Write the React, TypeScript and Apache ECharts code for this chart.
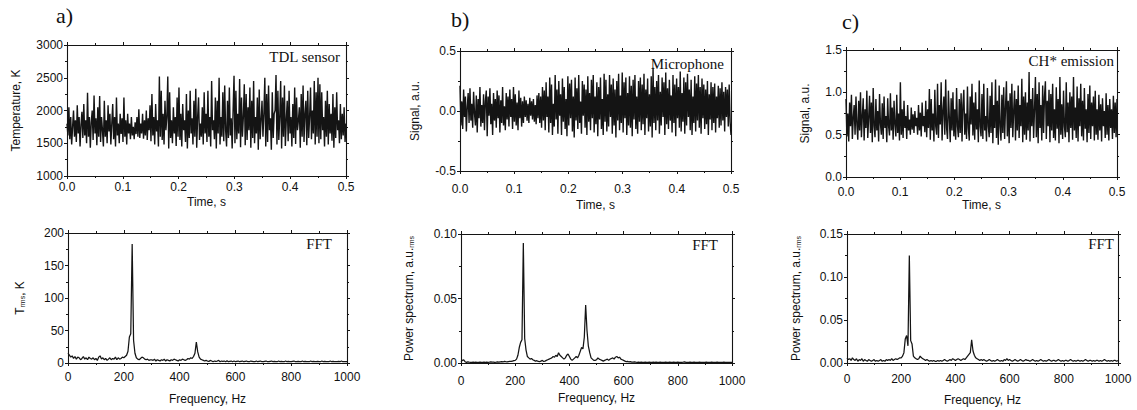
import React, { useEffect, useRef } from "react";
import * as echarts from "echarts";

// ---------- data ----------
const T_END = 0.5; // s, time span of the recordings
const FREQ_STEP = 5; // Hz, spacing of the spectra

const tdlTemperature = [
  1800,1620,2050,1560,1900,1480,1750,2000,1600,1850,
  1520,2080,1650,1900,1450,1780,1980,1580,2100,1620,
  1850,1500,2270,1600,1900,1430,1820,2000,1550,2230,
  1650,1880,1470,2050,1600,2220,1520,1900,1700,1450,
  2150,1600,1850,1500,2080,1680,1950,1480,1800,2100,
  1560,1900,1450,2200,1620,1800,1500,1950,1640,1880,
  1520,2200,1600,1850,1480,1950,1650,1800,1560,1900,
  1620,1750,1560,1820,1640,1900,1600,2020,1580,1800,
  1650,1950,1570,1850,1620,2000,1550,1880,1700,2080,
  1530,2250,1620,1900,1480,2100,1680,1850,1450,2520,
  1600,2300,1550,1950,1480,2150,1700,1900,2520,1420,
  2280,1580,1850,1500,2050,1650,1900,1460,2200,1600,
  2350,1550,1950,1450,2100,1700,1850,1520,2250,1420,
  2000,1580,2300,1650,1880,1480,2150,1600,2330,1430,
  1900,2200,1550,1800,1600,2050,1480,2280,1650,1950,
  1520,2300,1600,1900,1450,2450,1700,1850,1560,2200,
  1420,2150,1650,2500,1480,1900,1600,2280,1530,2380,
  1700,1450,2150,1580,2350,1620,1880,1420,2000,2530,
  1500,2300,1560,1950,1650,2480,1440,2200,1600,1900,
  2400,1470,2250,1550,2050,1700,2350,1430,2150,1580,
  2450,1500,1900,1650,2200,1400,2320,1560,1850,2150,
  1600,1950,2500,1450,2250,1520,2380,1700,1880,1400,
  2280,1580,1950,2000,2540,1480,2300,1550,1900,2450,
  1420,2200,1600,2380,1460,1850,2150,1530,2300,1650,
  1900,1450,2100,1580,2350,1490,2200,1700,1850,2050,
  1430,2250,1600,2380,1520,1950,2150,1470,2300,1580,
  1900,2350,1560,2000,1650,2450,1480,2280,1600,2500,
  1500,2400,1560,2280,1700,1900,1450,2150,1600,2300,
  1480,2100,1650,1950,1540,2250,1430,2050,1580,2280,
  1700,1850,1500,2100,1560,1950,1620,2050,1520,1800,
];

const micSignal = [
  0.21,-0.12,0.08,-0.15,0.18,-0.05,0.12,-0.17,0.03,0.15,
  -0.1,0.19,-0.08,0.06,-0.14,0.16,-0.02,-0.12,0.13,-0.18,
  0.1,-0.06,0.2,-0.13,0.05,-0.1,0.14,-0.16,0.08,0.17,
  -0.21,0.12,-0.04,0.19,-0.11,0.06,-0.2,0.15,-0.08,0.1,
  -0.14,0.17,-0.06,0.13,-0.18,0.09,-0.1,0.2,-0.12,0.04,
  -0.16,0.15,-0.07,0.12,-0.13,0.18,-0.05,0.1,-0.15,0.2,
  -0.09,0.14,-0.12,0.07,-0.16,0.17,-0.06,0.11,-0.13,0.08,
  -0.1,0.12,-0.05,0.09,-0.08,0.06,-0.1,0.11,-0.04,0.08,
  -0.07,0.1,-0.09,0.05,-0.11,0.13,-0.06,0.15,-0.1,0.12,
  -0.14,0.2,-0.08,0.17,-0.16,0.24,-0.05,0.12,-0.18,0.28,
  -0.1,0.22,-0.2,0.06,-0.13,0.3,-0.07,0.18,-0.19,0.25,
  -0.04,0.14,-0.2,0.27,-0.09,0.2,-0.15,0.1,-0.21,0.29,
  -0.12,0.23,-0.06,0.26,-0.17,0.12,-0.22,0.28,-0.08,0.19,
  -0.15,0.3,-0.1,0.08,-0.19,0.25,-0.04,0.22,-0.14,0.18,
  -0.2,0.29,-0.09,0.15,-0.16,0.26,-0.06,0.3,-0.18,0.12,
  -0.11,0.24,-0.21,0.2,-0.07,0.28,-0.15,0.1,-0.2,0.31,
  -0.09,0.26,-0.17,0.14,-0.13,0.3,-0.05,0.22,-0.19,0.27,
  -0.12,0.18,-0.22,0.25,-0.08,0.31,-0.16,0.13,-0.1,0.32,
  -0.18,0.24,-0.06,0.28,-0.2,0.15,-0.12,0.29,-0.14,0.21,
  -0.21,0.26,-0.07,0.3,-0.15,0.12,-0.19,0.25,-0.09,0.28,
  -0.16,0.22,-0.11,0.31,-0.2,0.18,-0.06,0.27,-0.17,0.14,
  -0.13,0.29,-0.22,0.36,-0.1,0.2,-0.16,0.25,-0.08,0.3,
  -0.19,0.16,-0.12,0.28,-0.05,0.24,-0.2,0.32,-0.11,0.19,
  -0.15,0.26,-0.08,0.13,-0.18,0.3,-0.1,0.22,-0.21,0.27,
  -0.06,0.2,-0.14,0.33,-0.17,0.15,-0.09,0.28,-0.19,0.24,
  -0.12,0.31,-0.05,0.18,-0.16,0.26,-0.2,0.12,-0.1,0.29,
  -0.17,0.23,-0.08,0.3,-0.14,0.2,-0.19,0.27,-0.06,0.22,
  -0.15,0.18,-0.11,0.25,-0.2,0.14,-0.07,0.24,-0.16,0.2,
  -0.1,0.23,-0.18,0.12,-0.06,0.21,-0.14,0.19,-0.12,0.24,
  -0.08,0.16,-0.17,0.2,-0.05,0.18,-0.13,0.22,-0.09,-0.2,
];

const chEmission = [
  0.92,0.48,0.75,0.42,0.88,0.6,0.97,0.45,0.7,0.85,
  0.5,0.95,0.62,0.44,0.9,0.55,1.0,0.47,0.72,0.93,
  0.43,0.8,0.58,1.02,0.46,0.7,0.96,0.52,0.88,0.41,
  1.05,0.6,0.47,0.92,0.55,0.78,0.42,0.98,0.63,0.5,
  0.87,0.45,0.95,0.58,0.72,0.41,0.93,0.6,0.49,0.99,
  0.55,0.82,0.44,0.9,0.62,0.48,0.97,0.52,0.75,0.43,
  1.12,0.5,0.8,0.46,0.9,0.58,0.72,0.45,0.85,0.55,
  0.68,0.5,0.82,0.56,0.74,0.52,0.78,0.6,0.7,0.5,
  0.85,0.55,0.76,0.48,0.88,0.6,0.72,0.53,0.9,0.47,
  0.8,0.58,1.04,0.44,0.92,0.55,0.75,0.42,1.03,0.6,
  0.5,1.1,0.46,0.85,0.62,1.12,0.43,0.78,0.95,0.5,
  1.15,0.58,0.45,1.02,0.7,0.41,0.93,0.55,1.0,0.48,
  0.8,0.44,1.05,0.6,0.47,0.92,0.52,0.99,0.42,0.85,
  1.03,0.5,0.75,0.45,1.07,0.58,0.43,0.95,0.62,1.1,
  0.49,0.88,0.44,1.0,0.56,0.8,0.41,1.14,0.6,0.48,
  0.98,0.45,1.1,0.55,0.72,0.42,1.05,0.6,0.47,0.96,
  0.52,1.12,0.4,0.85,0.58,1.15,0.46,0.9,0.38,1.08,
  0.6,0.43,0.97,0.52,1.06,0.45,0.82,1.13,0.48,0.9,
  0.4,0.99,0.58,1.1,0.47,0.78,1.02,0.43,0.92,0.55,
  1.08,0.46,0.85,0.6,1.16,0.41,0.95,0.5,1.0,0.44,
  0.88,0.55,1.24,0.42,0.92,0.6,1.05,0.46,0.8,1.18,
  0.47,0.98,0.4,1.12,0.58,0.85,0.43,1.08,0.52,0.95,
  1.13,0.45,0.9,0.6,1.03,0.41,0.98,0.55,1.1,0.46,
  0.8,0.43,1.06,0.57,0.92,0.4,1.18,0.5,0.86,0.45,
  1.02,0.6,0.47,1.12,0.53,0.88,0.41,1.0,0.58,0.95,
  0.44,1.18,0.55,0.82,0.46,1.07,0.42,0.93,0.6,1.1,
  0.48,0.9,0.43,1.05,0.57,0.8,0.41,0.98,0.52,1.08,
  0.45,0.88,0.6,0.95,0.43,1.02,0.5,0.8,0.44,0.97,
  0.55,0.86,0.42,0.93,0.6,0.78,0.46,0.99,0.5,0.85,
  0.43,0.92,0.58,0.8,0.45,0.96,0.52,0.88,0.47,0.92,
];

const fftTemperature = [
  15,12,9,11,7,10,6,9,8,5,7,10,6,8,5,9,7,6,8,5,
  7,4,9,11,6,8,5,7,4,6,8,5,7,6,9,5,8,6,7,9,
  8,10,12,18,40,45,183,35,15,8,6,5,7,9,8,6,5,6,4,5,
  5,4,6,3,5,4,3,5,4,6,3,5,4,3,5,4,6,5,4,3,
  5,4,6,5,4,5,7,6,8,7,10,15,32,17,9,6,5,4,3,4,
  3,2.5,4,3,2,3,2.5,3,4,2,3,2.5,3,2,3.5,2,2.5,3,2,3,
  2,2.5,3,2,2.5,3,2,2.5,3,2,2,3,2.5,2,2,3,2,2.5,3,2,
  2,2.5,3,2,2,2.5,3,2,2.5,2,2,3,2,2.5,2,2,3,2,2.5,2,
  2,2.5,3,2,2,2.5,2,2,3,2,2.5,2,2,2,3,2,2.5,2,2,2.5,
  2,2,3,2,2.5,2,2,2,3,2,2.5,2,2,2,2.5,2,3,2,2,2,
  2,
];

const fftMicrophone = [
  0.001,0.002,0.0025,0.001,0.0005,0.0008,0.0006,0.0005,0.0004,0.0006,0.0005,0.0007,0.0004,0.0005,0.0006,0.0004,0.0005,0.0007,0.0005,0.0006,
  0.0005,0.0006,0.0008,0.0006,0.0007,0.0005,0.0006,0.0008,0.0007,0.0009,0.001,0.0008,0.0012,0.001,0.0009,0.0011,0.0013,0.0012,0.0015,0.0018,
  0.002,0.003,0.006,0.012,0.016,0.018,0.093,0.019,0.01,0.005,0.004,0.003,0.0035,0.0025,0.002,0.0015,0.0018,0.0012,0.001,0.0015,
  0.002,0.0012,0.0015,0.002,0.0025,0.003,0.0035,0.004,0.005,0.0045,0.006,0.005,0.008,0.006,0.005,0.004,0.003,0.004,0.006,0.007,
  0.005,0.003,0.002,0.003,0.004,0.005,0.004,0.006,0.009,0.012,0.011,0.02,0.045,0.025,0.013,0.008,0.004,0.003,0.002,0.002,
  0.0025,0.004,0.003,0.0025,0.002,0.0015,0.002,0.0025,0.003,0.002,0.003,0.0035,0.004,0.003,0.0045,0.005,0.004,0.0045,0.003,0.0025,
  0.002,0.0015,0.001,0.0012,0.0008,0.001,0.0007,0.0006,0.0008,0.0006,0.0005,0.0007,0.0005,0.0006,0.0004,0.0005,0.0006,0.0005,0.0004,0.0006,
  0.0005,0.0004,0.0006,0.0005,0.0007,0.0005,0.0004,0.0006,0.0005,0.0004,0.0005,0.0006,0.0004,0.0005,0.0007,0.0005,0.0004,0.0006,0.0005,0.0004,
  0.0006,0.0005,0.0004,0.0005,0.0006,0.0008,0.0005,0.0004,0.0005,0.0006,0.0004,0.0005,0.0006,0.0005,0.0004,0.0005,0.0006,0.0004,0.0005,0.0004,
  0.0005,0.0006,0.0004,0.0005,0.0004,0.0006,0.0005,0.0004,0.0005,0.0006,0.0004,0.0005,0.0004,0.0005,0.0006,0.0004,0.0005,0.0004,0.0005,0.0004,
  0.0005,
];

const fftEmission = [
  0.006,0.004,0.005,0.003,0.006,0.004,0.003,0.005,0.002,0.004,0.003,0.005,0.002,0.004,0.003,0.002,0.004,0.003,0.002,0.003,
  0.004,0.002,0.003,0.002,0.003,0.004,0.002,0.003,0.002,0.004,0.003,0.004,0.003,0.005,0.003,0.004,0.005,0.004,0.005,0.006,
  0.006,0.008,0.012,0.028,0.032,0.02,0.125,0.026,0.022,0.008,0.006,0.005,0.004,0.005,0.008,0.006,0.005,0.004,0.003,0.004,
  0.003,0.002,0.003,0.002,0.003,0.002,0.002,0.003,0.002,0.003,0.002,0.003,0.004,0.003,0.002,0.003,0.004,0.003,0.005,0.004,
  0.003,0.004,0.005,0.004,0.003,0.004,0.005,0.004,0.006,0.008,0.01,0.012,0.027,0.014,0.009,0.006,0.005,0.004,0.003,0.004,
  0.003,0.004,0.003,0.002,0.003,0.004,0.003,0.002,0.003,0.002,0.003,0.004,0.003,0.002,0.003,0.002,0.004,0.003,0.005,0.003,
  0.004,0.003,0.002,0.003,0.004,0.003,0.002,0.003,0.004,0.003,0.002,0.003,0.004,0.003,0.003,0.002,0.003,0.004,0.003,0.002,
  0.003,0.002,0.003,0.004,0.003,0.002,0.003,0.002,0.003,0.004,0.003,0.002,0.003,0.003,0.002,0.003,0.004,0.003,0.002,0.003,
  0.002,0.003,0.003,0.002,0.003,0.004,0.003,0.002,0.003,0.002,0.003,0.003,0.002,0.003,0.002,0.003,0.004,0.003,0.002,0.003,
  0.003,0.002,0.003,0.002,0.003,0.003,0.002,0.003,0.002,0.003,0.004,0.003,0.002,0.003,0.002,0.003,0.002,0.003,0.003,0.002,
  0.003,
];

const panelLetters = ["a)", "b)", "c)"];
const topTags = ["TDL sensor", "Microphone", "CH* emission"];
const bottomTag = "FFT";

// ---------- styling ----------
const SANS = "'Liberation Sans', Arial, sans-serif";
const SERIF = "'Liberation Serif', 'Times New Roman', serif";
const INK = "#141414";
const TXT = "#111";

const grids = [
  { left: 67, top: 45, width: 279, height: 131 },
  { left: 460, top: 51, width: 271, height: 120 },
  { left: 846, top: 50, width: 271, height: 127 },
  { left: 68, top: 233, width: 279, height: 130 },
  { left: 461, top: 234, width: 271, height: 129 },
  { left: 847, top: 234, width: 271, height: 129 },
];

const f1 = (v: number) => v.toFixed(1);
const f2 = (v: number) => v.toFixed(2);
const f0 = (v: number) => String(Math.round(v));

type AxisSpec = { min: number; max: number; interval: number; fmt: (v: number) => string; name: string; gap: number; margin: number };

const xSpecs: AxisSpec[] = [
  { min: 0, max: 0.5, interval: 0.1, fmt: f1, name: "Time, s", gap: 20, margin: 5 },
  { min: 0, max: 0.5, interval: 0.1, fmt: f1, name: "Time, s", gap: 28, margin: 12 },
  { min: 0, max: 0.5, interval: 0.1, fmt: f1, name: "Time, s", gap: 22, margin: 9 },
  { min: 0, max: 1000, interval: 200, fmt: f0, name: "Frequency, Hz", gap: 30, margin: 8 },
  { min: 0, max: 1000, interval: 200, fmt: f0, name: "Frequency, Hz", gap: 29, margin: 12 },
  { min: 0, max: 1000, interval: 200, fmt: f0, name: "Frequency, Hz", gap: 31, margin: 10 },
];

const ySpecs: AxisSpec[] = [
  { min: 1000, max: 3000, interval: 500, fmt: f0, name: "Temperature, K", gap: 45, margin: 4 },
  { min: -0.5, max: 0.5, interval: 0.5, fmt: f1, name: "Signal, a.u.", gap: 39, margin: 4 },
  { min: 0, max: 1.5, interval: 0.5, fmt: f1, name: "Signal, a.u.", gap: 35, margin: 4 },
  { min: 0, max: 200, interval: 50, fmt: f0, name: "{m|T}{s|rms}{m|, K}", gap: 42, margin: 4 },
  { min: 0, max: 0.1, interval: 0.05, fmt: f2, name: "{m|Power spectrum, a.u.}{s|rms}", gap: 46, margin: 4 },
  { min: 0, max: 0.15, interval: 0.05, fmt: f2, name: "{m|Power spectrum, a.u.}{s|rms}", gap: 45, margin: 4 },
];

const seriesValues = [tdlTemperature, micSignal, chEmission, fftTemperature, fftMicrophone, fftEmission];

function buildOption() {
  const xAxis: any[] = [];
  const yAxis: any[] = [];
  const series: any[] = [];
  const lineCommon = { lineStyle: { color: INK, width: 1.1 } };
  const tickCommon = { show: true, inside: false, length: 3, lineStyle: { color: INK, width: 1 } };
  const minorCommon = { show: true, splitNumber: 2, length: 2, lineStyle: { color: INK, width: 1 } };
  const labelCommon = { fontFamily: SANS, fontSize: 12, color: TXT };
  const nameStyle = {
    fontFamily: SANS,
    fontSize: 12,
    color: TXT,
    rich: {
      m: { fontFamily: SANS, fontSize: 12, color: TXT },
      s: { fontFamily: SANS, fontSize: 7, color: TXT, verticalAlign: "bottom" },
    },
  };

  grids.forEach((g, i) => {
    const xs = xSpecs[i];
    const ys = ySpecs[i];
    xAxis.push({
      type: "value", gridIndex: i, position: "bottom", min: xs.min, max: xs.max, interval: xs.interval,
      axisLine: { show: true, onZero: false, ...lineCommon },
      axisTick: tickCommon, minorTick: minorCommon, splitLine: { show: false },
      axisLabel: { ...labelCommon, margin: xs.margin, formatter: xs.fmt },
      name: xs.name, nameLocation: "middle", nameGap: xs.gap, nameTextStyle: nameStyle,
    });
    yAxis.push({
      type: "value", gridIndex: i, position: "left", min: ys.min, max: ys.max, interval: ys.interval,
      axisLine: { show: true, onZero: false, ...lineCommon },
      axisTick: tickCommon, minorTick: minorCommon, splitLine: { show: false },
      axisLabel: { ...labelCommon, margin: ys.margin, formatter: ys.fmt },
      name: ys.name, nameLocation: "middle", nameGap: ys.gap, nameRotate: 90, nameTextStyle: nameStyle,
    });
    xAxis.push({
      type: "value", gridIndex: i, position: "top", min: xs.min, max: xs.max, interval: xs.interval,
      axisLine: { show: true, onZero: false, ...lineCommon },
      axisTick: tickCommon, minorTick: minorCommon, splitLine: { show: false },
      axisLabel: { show: false },
    });
    yAxis.push({
      type: "value", gridIndex: i, position: "right", min: ys.min, max: ys.max, interval: ys.interval,
      axisLine: { show: true, onZero: false, ...lineCommon },
      axisTick: tickCommon, minorTick: minorCommon, splitLine: { show: false },
      axisLabel: { show: false },
    });

    const vals = seriesValues[i];
    const data = i < 3
      ? vals.map((v, k) => [(k * T_END) / (vals.length - 1), v])
      : vals.map((v, k) => [k * FREQ_STEP, v]);
    series.push({
      type: "line",
      xAxisIndex: i * 2,
      yAxisIndex: i * 2,
      data,
      symbol: "none",
      showSymbol: false,
      clip: true,
      lineStyle: { color: INK, width: i < 3 ? 1.4 : 1.25 },
    });
  });

  const tag = (x: number, y: number, text: string) => ({
    type: "text", x, y,
    style: { text, font: `15px ${SERIF}`, fill: TXT, align: "right", verticalAlign: "middle" },
  });

  const graphic: any[] = [
    { type: "text", left: 56, top: 4, style: { text: panelLetters[0], font: `22px ${SERIF}`, fill: TXT } },
    { type: "text", left: 451, top: 8, style: { text: panelLetters[1], font: `22px ${SERIF}`, fill: TXT } },
    { type: "text", left: 842, top: 10, style: { text: panelLetters[2], font: `22px ${SERIF}`, fill: TXT } },
    tag(340, 57, topTags[0]),
    tag(724, 64, topTags[1]),
    tag(1114, 61, topTags[2]),
    tag(332, 244, bottomTag),
    tag(718, 245, bottomTag),
    tag(1114, 244, bottomTag),
  ];

  return {
    animation: false,
    backgroundColor: "#ffffff",
    grid: grids.map((g) => ({ ...g, containLabel: false })),
    xAxis,
    yAxis,
    series,
    graphic,
  };
}

export default function App() {
  const ref = useRef<HTMLDivElement>(null);
  useEffect(() => {
    document.body.style.margin = "0";
    if (!ref.current) return;
    const chart = echarts.init(ref.current, undefined, { renderer: "svg" });
    chart.setOption(buildOption() as any);
    return () => chart.dispose();
  }, []);
  return <div ref={ref} style={{ width: 1137, height: 410 }} />;
}
